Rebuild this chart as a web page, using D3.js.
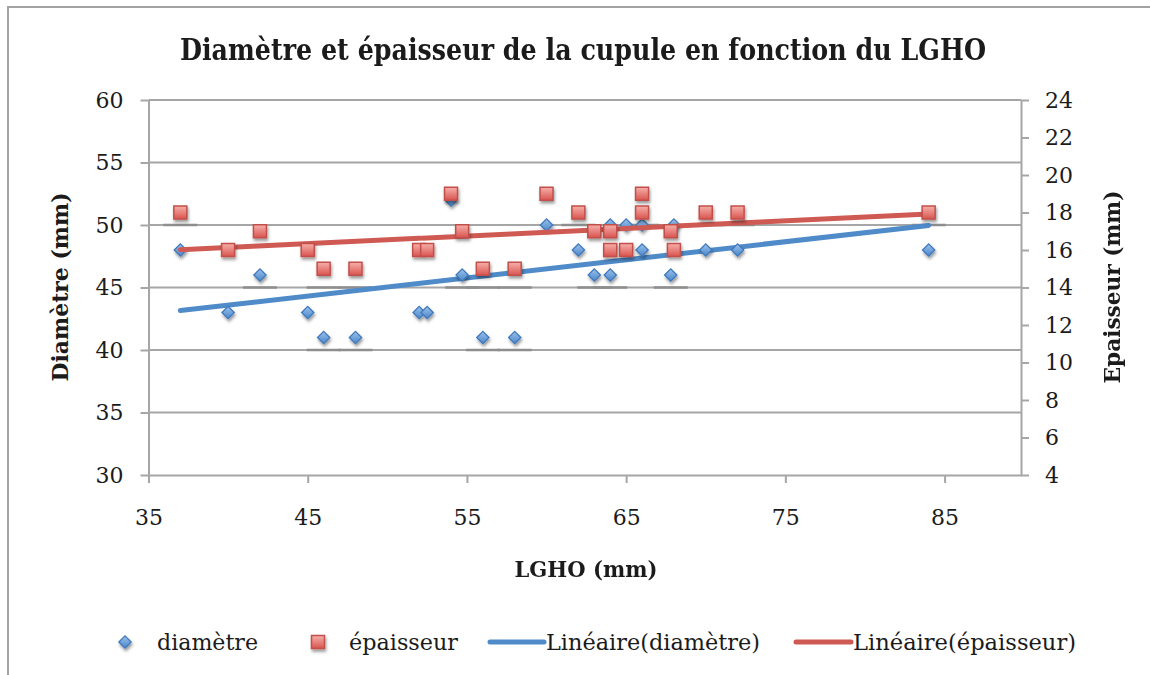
<!DOCTYPE html>
<html><head><meta charset="utf-8">
<script src="https://cdn.jsdelivr.net/npm/d3@7"></script>
<style>body{margin:0;background:#fff}svg{display:block}</style>
</head><body>
<svg id="c" width="1150" height="675"></svg>
<script>
// ---- data ----
const lgho      = [37,40,42,45,46,48,52,52.5,54,54.7,56,58,60,62,63,64,64,65,66,66,67.8,68,70,72,84];
const diametre  = [48,43,46,43,41,41,43,43,52,46,41,41,50,48,46,50,46,50,50,48,46,50,48,48,48];
const epaisseur = [18,16,17,16,15,15,16,16,19,17,15,15,19,18,17,17,16,16,19,18,17,16,18,18,18];
const xTicks = [35,45,55,65,75,85];
const leftTicks = [30,35,40,45,50,55,60];
const rightTicks = [4,6,8,10,12,14,16,18,20,22,24];
const titleText = "Diamètre et épaisseur de la cupule en fonction du LGHO";
const xTitle = "LGHO (mm)";
const yLeftTitle = "Diamètre (mm)";
const yRightTitle = "Epaisseur (mm)";
const legendLabels = ["diamètre","épaisseur","Linéaire(diamètre)","Linéaire(épaisseur)"];

// ---- setup ----
const FONT = "'DejaVu Serif', 'Liberation Serif', serif";
const TXT = "#1b1b1b", GRID = "#a6a6a6";
const svg = d3.select("#c");
const L = 148.5, R = 1021, T = 100, B = 475;
const x  = d3.scaleLinear().domain([35, 89.8]).range([L, R]);
const yL = d3.scaleLinear().domain([30, 60]).range([B, T]);
const yR = d3.scaleLinear().domain([4, 24]).range([B, T]);

const defs = svg.append("defs");
const gb = defs.append("linearGradient").attr("id","gBlue").attr("x1",0).attr("y1",0).attr("x2",0).attr("y2",1);
gb.append("stop").attr("offset","0%").attr("stop-color","#9cc2ec");
gb.append("stop").attr("offset","100%").attr("stop-color","#4a86c8");
const gr = defs.append("linearGradient").attr("id","gRed").attr("x1",0).attr("y1",0).attr("x2",0).attr("y2",1);
gr.append("stop").attr("offset","0%").attr("stop-color","#f6b0ab");
gr.append("stop").attr("offset","100%").attr("stop-color","#d9544f");
const f = defs.append("filter").attr("id","sh").attr("x","-50%").attr("y","-50%").attr("width","200%").attr("height","200%");
f.append("feDropShadow").attr("dx",1).attr("dy",2.5).attr("stdDeviation",1.8).attr("flood-color","#000").attr("flood-opacity",0.4);

// frame
svg.append("path").attr("d","M8,680V7H1155").attr("fill","none").attr("stroke","#a3a3a3").attr("stroke-width",2);

// gridlines
svg.append("g").selectAll("line").data(leftTicks.filter(d => d > 30)).join("line")
  .attr("x1", L).attr("x2", R).attr("y1", d => yL(d)).attr("y2", d => yL(d))
  .attr("stroke", GRID).attr("stroke-width", 2);

// marker shadows cast on gridlines
const gridPx = leftTicks.map(d => yL(d));
const markersPx = lgho.map((v,i) => [x(v), yL(diametre[i])]).concat(lgho.map((v,i) => [x(v), yR(epaisseur[i])]));
const segs = [];
markersPx.forEach(([px,py]) => {
  const g = gridPx.find(gy => gy - py > 0 && gy - py <= 22);
  if (g !== undefined) segs.push([px, g]);
});
svg.append("g").selectAll("line").data(segs).join("line")
  .attr("x1", d => d[0]-17).attr("x2", d => d[0]+17).attr("y1", d => d[1]).attr("y2", d => d[1])
  .attr("stroke", "#8e8e8e").attr("stroke-width", 2.6);

// axes
function styleAxis(g){
  g.select(".domain").attr("stroke", GRID).attr("stroke-width", 2);
  g.selectAll(".tick line").attr("stroke", GRID).attr("stroke-width", 2);
  g.selectAll(".tick text").attr("fill", TXT).style("font-family", FONT).style("font-size", "22px");
}
svg.append("g").attr("transform", `translate(${L},0)`)
  .call(d3.axisLeft(yL).tickValues(leftTicks).tickSize(8).tickSizeOuter(0).tickPadding(17))
  .call(styleAxis);
svg.append("g").attr("transform", `translate(${R},0)`)
  .call(d3.axisRight(yR).tickValues(rightTicks).tickSize(8).tickSizeOuter(0).tickPadding(16))
  .call(styleAxis);
svg.append("g").attr("transform", `translate(0,${B})`)
  .call(d3.axisBottom(x).tickValues(xTicks).tickSize(8).tickSizeOuter(0))
  .call(styleAxis)
  .call(g => g.selectAll(".tick text").attr("dy", null).attr("y", 50));

// regression
function linreg(xs, ys){
  const n = xs.length, mx = d3.mean(xs), my = d3.mean(ys);
  let sxy = 0, sxx = 0;
  for (let i = 0; i < n; i++){ sxy += (xs[i]-mx)*(ys[i]-my); sxx += (xs[i]-mx)**2; }
  const b = sxy/sxx, a = my - b*mx;
  const [x0, x1] = d3.extent(xs);
  return [[x0, a+b*x0],[x1, a+b*x1]];
}
const BLUE_LINE = "#4f8bc9", RED_LINE = "#cf5a53";
const rd = linreg(lgho, diametre), re = linreg(lgho, epaisseur);

const diamond = d3.symbol().type(d3.symbolDiamond2).size(96);
const sq = 13;

// blue trend + diamonds
svg.append("line").attr("x1", x(rd[0][0])).attr("y1", yL(rd[0][1])).attr("x2", x(rd[1][0])).attr("y2", yL(rd[1][1]))
  .attr("stroke", BLUE_LINE).attr("stroke-width", 5).attr("stroke-linecap","round");
svg.append("g").attr("filter","url(#sh)").selectAll("path").data(lgho).join("path")
  .attr("d", diamond).attr("transform", (d,i) => `translate(${x(d)},${yL(diametre[i])})`)
  .attr("fill", "url(#gBlue)").attr("stroke", "#3f79bd").attr("stroke-width", 1.3);

// red trend + squares
svg.append("line").attr("x1", x(re[0][0])).attr("y1", yR(re[0][1])).attr("x2", x(re[1][0])).attr("y2", yR(re[1][1]))
  .attr("stroke", RED_LINE).attr("stroke-width", 5).attr("stroke-linecap","round");
svg.append("g").attr("filter","url(#sh)").selectAll("rect").data(lgho).join("rect")
  .attr("x", d => x(d)-sq/2).attr("y", (d,i) => yR(epaisseur[i])-sq/2).attr("width", sq).attr("height", sq)
  .attr("fill", "url(#gRed)").attr("stroke", "#c24f4a").attr("stroke-width", 1.5);

// titles
svg.append("text").attr("x", 180).attr("y", 60).attr("textLength", 806).attr("lengthAdjust","spacingAndGlyphs")
  .attr("fill", TXT).style("font-family", FONT).style("font-size","29px").style("font-weight","bold").text(titleText);
svg.append("text").attr("x", 586).attr("y", 577).attr("text-anchor","middle").attr("textLength",143).attr("lengthAdjust","spacingAndGlyphs")
  .attr("fill", TXT).style("font-family", FONT).style("font-size","23px").style("font-weight","bold").text(xTitle);
svg.append("text").attr("transform","translate(68,287) rotate(-90)").attr("text-anchor","middle").attr("textLength",189).attr("lengthAdjust","spacingAndGlyphs")
  .attr("fill", TXT).style("font-family", FONT).style("font-size","23px").style("font-weight","bold").text(yLeftTitle);
svg.append("text").attr("transform","translate(1120,287) rotate(-90)").attr("text-anchor","middle").attr("textLength",193).attr("lengthAdjust","spacingAndGlyphs")
  .attr("fill", TXT).style("font-family", FONT).style("font-size","23px").style("font-weight","bold").text(yRightTitle);

// legend
const LY = 642;
const lg = svg.append("g");
lg.append("path").attr("d", diamond).attr("transform", `translate(125,${LY})`).attr("filter","url(#sh)")
  .attr("fill", "url(#gBlue)").attr("stroke", "#3f79bd").attr("stroke-width", 1.3);
lg.append("rect").attr("x", 318-sq/2).attr("y", LY-sq/2).attr("width", sq).attr("height", sq).attr("filter","url(#sh)")
  .attr("fill", "url(#gRed)").attr("stroke", "#c24f4a").attr("stroke-width", 1.5);
lg.append("line").attr("x1", 490).attr("x2", 544).attr("y1", LY).attr("y2", LY).attr("stroke", BLUE_LINE).attr("stroke-width", 5).attr("stroke-linecap","round");
lg.append("line").attr("x1", 796).attr("x2", 851).attr("y1", LY).attr("y2", LY).attr("stroke", RED_LINE).attr("stroke-width", 5).attr("stroke-linecap","round");
const legPos = [[157,101],[349,109],[546,214],[853,223]];
lg.selectAll("text").data(legendLabels).join("text")
  .attr("x", (d,i) => legPos[i][0]).attr("y", 650).attr("textLength", (d,i) => legPos[i][1]).attr("lengthAdjust","spacingAndGlyphs")
  .attr("fill", TXT).style("font-family", FONT).style("font-size","22px").text(d => d);
</script>
</body></html>
